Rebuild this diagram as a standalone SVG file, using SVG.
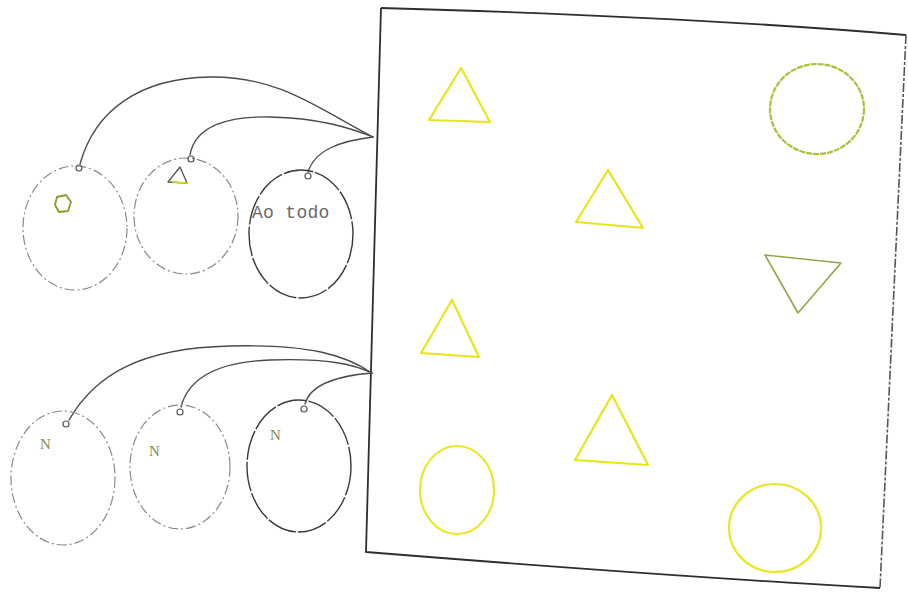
<svg xmlns="http://www.w3.org/2000/svg" width="908" height="594" viewBox="0 0 908 594">
<style>
.bg{fill:#ffffff}
.box{fill:none;stroke:#2e2e2e;stroke-width:1.8;stroke-linejoin:round}
.boxr{fill:none;stroke:#555;stroke-width:1.6;stroke-dasharray:9 2 3 2}
.ell{fill:none;stroke:#8a8a8a;stroke-width:1.2;stroke-dasharray:10 3 2 3}
.ellk{fill:none;stroke:#3a3a3a;stroke-width:1.4;stroke-dasharray:30 2}
.loop{fill:none;stroke:#555;stroke-width:1.2}
.con{fill:none;stroke:#4a4a4a;stroke-width:1.3;stroke-linecap:round}
.ytri{fill:none;stroke:#e6e61a;stroke-width:2.2;stroke-linejoin:round}
.ycir{fill:none;stroke:#e8e82a;stroke-width:2.2}
.ocir{fill:none;stroke:#a9c03a;stroke-width:2.2;stroke-dasharray:6 1}
.otri{fill:none;stroke:#9aa34a;stroke-width:1.6;stroke-linejoin:round}
.lbl{font-family:"Liberation Mono","DejaVu Sans Mono",monospace;fill:#6a6a6a}
.nlbl{font-family:"Liberation Serif","DejaVu Serif",serif;fill:#8a8a50;font-size:15px}
</style>
<rect class="bg" x="0" y="0" width="908" height="594"/>

<g id="frame">
  <path class="box" d="M381,8 C560,13 740,21 906,35"/>
  <path class="box" d="M381,8 L374,260 L366,552 C540,566 700,578 880,588"/>
  <path class="boxr" d="M906,35 L893,310 L880,588"/>
  <path class="ytri" d="M461,68 L429,120 L490,122 Z"/>
  <ellipse class="ocir" cx="817" cy="109" rx="47" ry="45"/>
  <path class="ytri" d="M608,170 L576,222 L643,228 Z"/>
  <path class="otri" d="M765,255 L841,263 L798,313 Z"/>
  <path class="ytri" d="M452,300 L421,353 L479,357 Z"/>
  <path class="ytri" d="M612,395 L575,460 L648,465 Z"/>
  <ellipse class="ycir" cx="457" cy="490" rx="37" ry="44"/>
  <ellipse class="ycir" cx="775" cy="528" rx="46" ry="44"/>
</g>

<g id="connectors">
  <path class="con" d="M80,164 C95,110 140,78 210,77 C280,76 320,110 373,137"/>
  <path class="con" d="M190,155 C195,125 230,116 270,117 C320,118 350,128 373,137"/>
  <path class="con" d="M308,172 C315,150 340,141 373,137"/>
  <path class="con" d="M69,420 C95,375 140,348 230,346 C310,344 345,355 372,373"/>
  <path class="con" d="M181,407 C188,380 215,362 270,360 C330,358 355,365 372,373"/>
  <path class="con" d="M305,404 C310,385 335,376 372,373"/>
</g>

<g id="set-circle">
  <ellipse class="ell" cx="75" cy="228" rx="52" ry="62"/>
  <circle class="loop" cx="79" cy="168" r="3"/>
  <path d="M57,197 L66,195 L71,202 L68,211 L59,212 L55,205 Z" fill="none" stroke="#8a9a2a" stroke-width="1.8" stroke-linejoin="round"/>
</g>

<g id="set-triangle">
  <ellipse class="ell" cx="186" cy="216" rx="52" ry="58"/>
  <circle class="loop" cx="191" cy="159" r="3"/>
  <path d="M180,167 L168,182 L187,183 Z" fill="none" stroke="#555" stroke-width="1.3" stroke-linejoin="round"/>
  <path d="M172,182 L187,183" stroke="#d8d830" stroke-width="1.6"/>
</g>

<g id="set-all">
  <ellipse class="ellk" cx="301" cy="234" rx="52" ry="64"/>
  <circle class="loop" cx="308" cy="176" r="3"/>
  <text class="lbl" x="252" y="218" font-size="18" letter-spacing="0.3">Ao todo</text>
</g>

<g id="set-n1">
  <ellipse class="ell" cx="63" cy="478" rx="52" ry="67"/>
  <circle class="loop" cx="66" cy="424" r="3"/>
  <text class="nlbl" x="40" y="449">N</text>
</g>

<g id="set-n2">
  <ellipse class="ell" cx="180" cy="467" rx="50" ry="62"/>
  <circle class="loop" cx="180" cy="412" r="3"/>
  <text class="nlbl" x="149" y="456">N</text>
</g>

<g id="set-n3">
  <ellipse class="ellk" cx="299" cy="466" rx="52" ry="66"/>
  <circle class="loop" cx="304" cy="409" r="3"/>
  <text class="nlbl" x="270" y="440">N</text>
</g>
</svg>
